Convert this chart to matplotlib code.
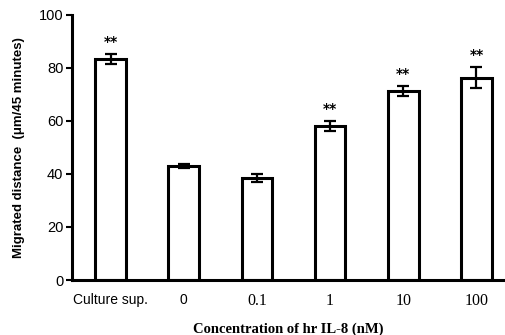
import matplotlib.pyplot as plt
import numpy as np

categories = ["Culture sup.", "0", "0.1", "1", "10", "100"]
values = [83.3, 43.0, 38.3, 58.0, 71.2, 76.2]
errors = [1.9, 0.7, 1.5, 1.8, 1.9, 4.0]
significant = [True, False, False, True, True, True]
yticks = [0, 20, 40, 60, 80, 100]

fig = plt.figure(figsize=(5.05, 3.35), dpi=100)
ax = fig.add_axes([0.142, 0.164, 0.858, 0.792])

x = np.arange(len(categories))
ax.bar(x, values, width=0.42, color="white", edgecolor="black", linewidth=2.2, zorder=2)
ax.errorbar(x, values, yerr=errors, fmt="none", ecolor="black", elinewidth=1.6,
            capsize=4, capthick=1.6, zorder=3)

for xi, v, e, s in zip(x, values, errors, significant):
    if s:
        ax.text(xi, v + e + 2.0, "**", ha="center", va="bottom", fontsize=10,
                fontweight="bold", family="DejaVu Sans")

ax.set_xlim(-0.53, 5.39)
ax.set_ylim(0, 100)
ax.set_yticks(yticks)
ax.set_yticklabels([str(t) for t in yticks], fontsize=10.5, family="Liberation Sans")
ax.set_xticks(x)
ax.set_xticklabels(categories, fontsize=10)
for i, lab in enumerate(ax.get_xticklabels()):
    if i < 2:
        lab.set_family("Liberation Sans")
    else:
        lab.set_family("Liberation Serif")
        lab.set_fontsize(11.5)
ax.tick_params(axis="x", length=0, pad=9)
ax.tick_params(axis="y", length=4, width=1.5, direction="out", pad=2)

ax.spines["top"].set_visible(False)
ax.spines["right"].set_visible(False)
ax.spines["left"].set_linewidth(2.2)
ax.spines["bottom"].set_linewidth(2.2)

ax.set_ylabel("Migrated distance  (\u03bcm/45 minutes)", fontsize=9.5,
              fontweight="bold", family="Liberation Sans", labelpad=10)
ax.set_xlabel("Concentration of hr IL-8 (nM)", fontsize=10.5, fontweight="bold",
              family="Liberation Serif", labelpad=10)

fig.savefig("out.png", dpi=100)
